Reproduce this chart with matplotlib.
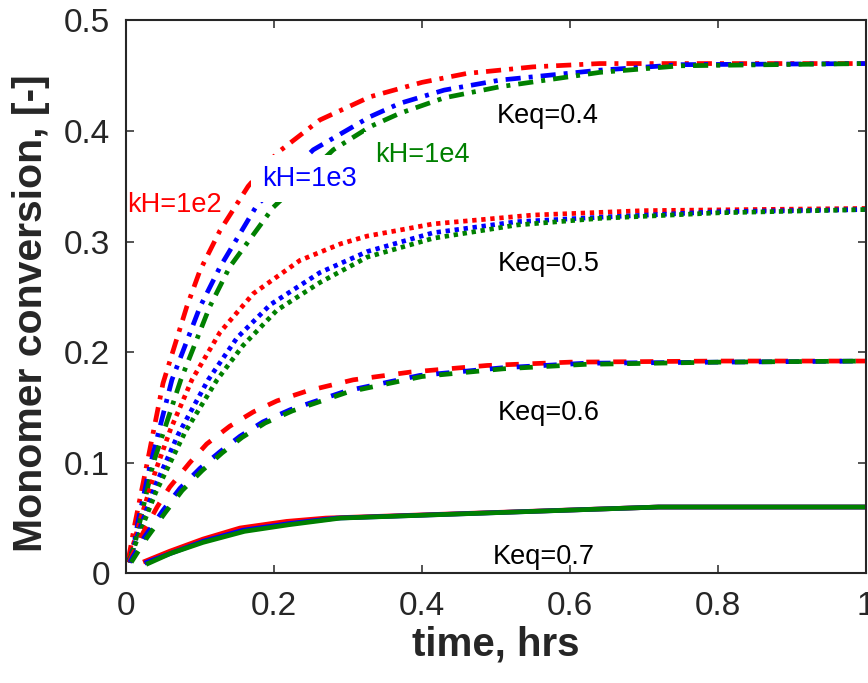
import matplotlib
matplotlib.use("Agg")
import matplotlib.pyplot as plt

# time axis ticks
x_ticks = [0, 0.2, 0.4, 0.6, 0.8, 1.0]
x_ticklabels = ["0", "0.2", "0.4", "0.6", "0.8", "1"]
y_ticks = [0, 0.1, 0.2, 0.3, 0.4, 0.5]
y_ticklabels = ["0", "0.1", "0.2", "0.3", "0.4", "0.5"]

# Keq = 0.4 (dash-dot)
t_04_red = [0.003, 0.012, 0.028, 0.05, 0.082, 0.10, 0.127, 0.165, 0.204, 0.262, 0.33, 0.40, 0.46, 0.55, 0.64, 1.0]
x_04_red = [0.012, 0.045, 0.098, 0.172, 0.241, 0.274, 0.310, 0.350, 0.380, 0.410, 0.431, 0.444, 0.452, 0.458, 0.461, 0.461]
t_04_blue = [0.004, 0.009, 0.016, 0.032, 0.062, 0.10, 0.127, 0.177, 0.253, 0.33, 0.37, 0.43, 0.505, 0.64, 0.75, 1.0]
x_04_blue = [0.010, 0.019, 0.046, 0.096, 0.175, 0.241, 0.277, 0.333, 0.383, 0.413, 0.425, 0.437, 0.446, 0.455, 0.460, 0.461]
t_04_green = [0.004, 0.012, 0.037, 0.074, 0.113, 0.14, 0.199, 0.28, 0.33, 0.37, 0.43, 0.505, 0.64, 0.75, 1.0]
x_04_green = [0.010, 0.027, 0.100, 0.175, 0.241, 0.277, 0.331, 0.383, 0.404, 0.416, 0.430, 0.440, 0.453, 0.459, 0.461]

# Keq = 0.5 (dotted)
t_05_red = [0.003, 0.02, 0.04, 0.06, 0.089, 0.127, 0.172, 0.235, 0.29, 0.326, 0.415, 0.55, 0.7, 1.0]
x_05_red = [0.010, 0.050, 0.093, 0.130, 0.175, 0.218, 0.253, 0.283, 0.298, 0.305, 0.316, 0.324, 0.328, 0.330]
t_05_blue = [0.003, 0.02, 0.04, 0.07, 0.111, 0.15, 0.195, 0.262, 0.326, 0.415, 0.528, 0.64, 0.8, 1.0]
x_05_blue = [0.010, 0.043, 0.080, 0.125, 0.175, 0.213, 0.243, 0.272, 0.291, 0.308, 0.318, 0.322, 0.327, 0.329]
t_05_green = [0.003, 0.02, 0.04, 0.08, 0.123, 0.158, 0.204, 0.262, 0.326, 0.415, 0.528, 0.64, 0.8, 1.0]
x_05_green = [0.010, 0.039, 0.073, 0.128, 0.175, 0.206, 0.238, 0.263, 0.286, 0.303, 0.315, 0.321, 0.326, 0.329]

# Keq = 0.6 (dashed)
t_06_red = [0.004, 0.02, 0.042, 0.059, 0.086, 0.109, 0.14, 0.172, 0.204, 0.245, 0.307, 0.384, 0.488, 0.6, 0.8, 1.0]
x_06_red = [0.010, 0.033, 0.060, 0.078, 0.100, 0.117, 0.133, 0.146, 0.156, 0.165, 0.175, 0.182, 0.188, 0.191, 0.192, 0.192]
t_06_blue = [0.005, 0.025, 0.05, 0.073, 0.10, 0.127, 0.154, 0.185, 0.222, 0.253, 0.298, 0.397, 0.51, 0.62, 0.8, 1.0]
x_06_blue = [0.010, 0.033, 0.057, 0.077, 0.095, 0.110, 0.124, 0.137, 0.148, 0.155, 0.165, 0.179, 0.186, 0.190, 0.191, 0.192]
t_06_green = [0.007, 0.028, 0.053, 0.076, 0.103, 0.13, 0.157, 0.188, 0.225, 0.256, 0.30, 0.40, 0.51, 0.62, 0.8, 1.0]
x_06_green = [0.010, 0.032, 0.055, 0.075, 0.093, 0.109, 0.123, 0.136, 0.147, 0.154, 0.164, 0.178, 0.185, 0.189, 0.191, 0.192]

# Keq = 0.7 (solid)
t_07_red = [0.026, 0.059, 0.104, 0.154, 0.217, 0.27, 0.72, 1.0]
x_07_red = [0.011, 0.020, 0.031, 0.041, 0.047, 0.050, 0.060, 0.060]
t_07_blue = [0.028, 0.06, 0.104, 0.158, 0.22, 0.285, 0.72, 1.0]
x_07_blue = [0.010, 0.018, 0.029, 0.039, 0.045, 0.050, 0.060, 0.060]
t_07_green = [0.03, 0.06, 0.104, 0.16, 0.22, 0.29, 0.72, 1.0]
x_07_green = [0.009, 0.018, 0.028, 0.038, 0.044, 0.050, 0.060, 0.060]

colors = {"red": "#ff0000", "blue": "#0000ff", "green": "#008000"}
lw = 3.4
styles = {
    "0.4": (0, (3.2, 1.7, 0.85, 1.7)),
    "0.5": (0, (0.92, 1.0)),
    "0.6": (0, (2.8, 2.9)),
    "0.7": "-",
}

series = [
    ("0.4", t_04_red, x_04_red, "red"), ("0.4", t_04_blue, x_04_blue, "blue"), ("0.4", t_04_green, x_04_green, "green"),
    ("0.5", t_05_red, x_05_red, "red"), ("0.5", t_05_blue, x_05_blue, "blue"), ("0.5", t_05_green, x_05_green, "green"),
    ("0.6", t_06_red, x_06_red, "red"), ("0.6", t_06_blue, x_06_blue, "blue"), ("0.6", t_06_green, x_06_green, "green"),
    ("0.7", t_07_red, x_07_red, "red"), ("0.7", t_07_blue, x_07_blue, "blue"), ("0.7", t_07_green, x_07_green, "green"),
]

plt.rcParams["font.family"] = ["Liberation Sans", "DejaVu Sans"]
fig = plt.figure(figsize=(8.68, 6.83), dpi=100)
ax = fig.add_axes([0.1452, 0.1605, 0.8525, 0.8096])

for keq, t, x, c in series:
    ax.plot(t, x, color=colors[c], lw=lw, linestyle=styles[keq], dash_capstyle="butt")

box = dict(boxstyle="square,pad=0.4", fc="white", ec="none")
ax.text(0.0015, 0.333, "kH=1e2", color=colors["red"], fontsize=19.5, ha="left", va="center")
ax.text(0.184, 0.357, "kH=1e3", color=colors["blue"], fontsize=19.5, ha="left", va="center", bbox=box)
ax.text(0.336, 0.378, "kH=1e4", color=colors["green"], fontsize=19.5, ha="left", va="center", bbox=box)
ax.text(0.501, 0.414, "Keq=0.4", color="black", fontsize=19.5, ha="left", va="center")
ax.text(0.503, 0.280, "Keq=0.5", color="black", fontsize=19.5, ha="left", va="center")
ax.text(0.503, 0.145, "Keq=0.6", color="black", fontsize=19.5, ha="left", va="center")
ax.text(0.495, 0.015, "Keq=0.7", color="black", fontsize=19.5, ha="left", va="center")

ax.set_xlim(0, 1)
ax.set_ylim(0, 0.5)
ax.set_xticks(x_ticks)
ax.set_xticklabels(x_ticklabels)
ax.set_yticks(y_ticks)
ax.set_yticklabels(y_ticklabels)
ax.tick_params(direction="in", length=5.8, width=1.1, top=True, right=True,
               colors="#262626", labelsize=24)
ax.tick_params(axis="x", pad=13)
ax.tick_params(axis="y", pad=11.5)
for s in ax.spines.values():
    s.set_linewidth(1.5)
    s.set_color("#262626")

ax.set_xlabel("time, hrs", fontsize=29, fontweight="bold", color="#262626")
ax.set_ylabel("Monomer conversion, [-]", fontsize=29.5, fontweight="bold", color="#262626")
ax.xaxis.set_label_coords(0.5, -0.095)
ax.yaxis.set_label_coords(-0.103, 0.47)

fig.savefig("out.png", dpi=100)
